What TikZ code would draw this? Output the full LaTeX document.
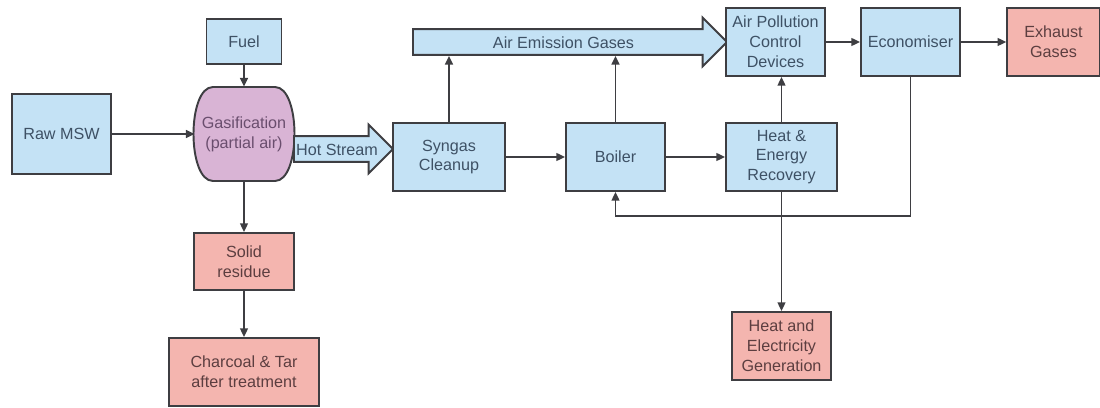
\documentclass[tikz,border=0pt]{standalone}
\usepackage{fontspec}
\setmainfont{Liberation Sans}
\usetikzlibrary{arrows.meta,shapes.arrows}
\definecolor{boxblue}{HTML}{C4E2F5}
\definecolor{boxpink}{HTML}{F4B5AF}
\definecolor{boxpurple}{HTML}{D9B4D5}
\definecolor{edgegray}{HTML}{3E3E42}
\definecolor{txtblue}{HTML}{3E5165}
\definecolor{txtred}{HTML}{5C3E40}
\definecolor{txtpurple}{HTML}{6A4E6E}

\begin{document}
\begin{tikzpicture}
[x=0.02cm,y=-0.02cm,
every node/.style={font=\fontsize{9.2}{11.3}\selectfont,align=center,inner sep=0pt},
bluebox/.style={rectangle,draw=edgegray,line width=1.1pt,fill=boxblue,text=txtblue,minimum width=1.98cm,minimum height=1.36cm},
pinkbox/.style={bluebox,fill=boxpink,text=txtred},
fatarrow/.style={single arrow,draw=edgegray,line width=1.1pt,fill=boxblue,text=txtblue,
  text height=7pt,text depth=0pt,inner ysep=3.3pt,single arrow head extend=6.5pt,anchor=tail},
flow/.style={draw=edgegray,line width=1pt,-{Triangle[length=5pt,width=4.5pt]}}]
\useasboundingbox (0,0) rectangle (1100,408);
% gasifier body
\filldraw[fill=boxpurple,draw=edgegray,line width=1.1pt] (213,87) -- (275,87)
  .. controls (301,87) and (301,181) .. (275,181) -- (213,181)
  .. controls (187,181) and (187,87) .. (213,87) -- cycle;
\node (gas) at (244,134) [minimum width=1.96cm,minimum height=1.88cm,text=txtpurple] {Gasification\\(partial air)};
\node[bluebox,minimum height=1.6cm] (raw) at (61.5,134) {Raw MSW};
\node[bluebox,minimum width=1.5cm,minimum height=0.9cm] (fuel) at (244,41.5) {Fuel};
\node[pinkbox,minimum width=2cm,minimum height=1.14cm] (res) at (244,261.5) {Solid\\residue};
\node[pinkbox,minimum width=3cm] (char) at (244,372) {Charcoal \& Tar\\after treatment};
\node[fatarrow,minimum height=1.98cm] (hot) at (293,149) {Hot Stream};
\node[bluebox,minimum width=2.24cm] (syn) at (449,157) {Syngas\\Cleanup};
\node[bluebox] (boil) at (615.5,157) {Boiler};
\node[bluebox,minimum width=2.22cm] (heat) at (781.5,157) {Heat \&\\Energy\\Recovery};
\node[fatarrow,minimum height=6.28cm] (emis) at (412,42) {Air Emission Gases};
\node[bluebox] (apc) at (775.5,42) {Air Pollution\\Control\\Devices};
\node[bluebox] (eco) at (910.5,42) {Economiser};
\node[pinkbox,minimum width=1.85cm] (exh) at (1053.5,42) {Exhaust\\Gases};
\node[pinkbox] (gen) at (781.5,346) {Heat and\\Electricity\\Generation};
\foreach \from/\to in {fuel/gas,raw/gas,gas/res,res/char,syn/boil,boil/heat,apc/eco,eco/exh,heat/gen}
\draw[flow] (\from) -- (\to);
\draw[flow] (heat.north) -- (heat.north |- apc.south);
\draw[flow] (syn.north) -- (syn.north |- emis.south);
\draw[flow] (boil.north) -- (boil.north |- emis.south);
\draw[flow] (eco.south) -- ++(0,139) -| (boil.south);
\end{tikzpicture}
\end{document}
